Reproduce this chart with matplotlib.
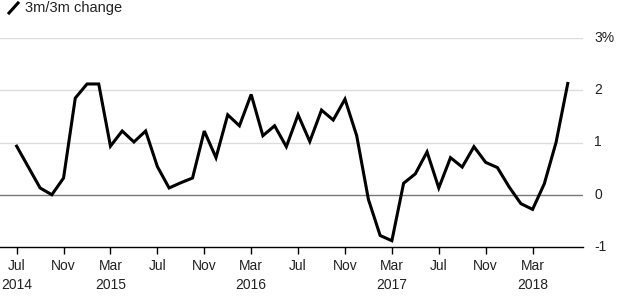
import numpy as np
import matplotlib.pyplot as plt
from matplotlib.lines import Line2D

plt.rcParams['font.family'] = ['Liberation Sans', 'DejaVu Sans']

# monthly values, Jul 2014 .. Jun 2018 (3m/3m % change)
months = ['Jul 2014', 'Aug', 'Sep', 'Oct', 'Nov', 'Dec',
          'Jan 2015', 'Feb', 'Mar', 'Apr', 'May', 'Jun', 'Jul', 'Aug', 'Sep', 'Oct', 'Nov', 'Dec',
          'Jan 2016', 'Feb', 'Mar', 'Apr', 'May', 'Jun', 'Jul', 'Aug', 'Sep', 'Oct', 'Nov', 'Dec',
          'Jan 2017', 'Feb', 'Mar', 'Apr', 'May', 'Jun', 'Jul', 'Aug', 'Sep', 'Oct', 'Nov', 'Dec',
          'Jan 2018', 'Feb', 'Mar', 'Apr', 'May', 'Jun']
change = [0.93, 0.53, 0.13, 0.0, 0.32, 1.85,
          2.12, 2.12, 0.93, 1.22, 1.01, 1.22, 0.54, 0.13, 0.23, 0.32, 1.22, 0.71,
          1.53, 1.32, 1.92, 1.13, 1.32, 0.92, 1.53, 1.02, 1.62, 1.43, 1.83, 1.13,
          -0.09, -0.78, -0.88, 0.22, 0.40, 0.82, 0.13, 0.71, 0.53, 0.92, 0.62, 0.52,
          0.15, -0.17, -0.28, 0.21, 1.00, 2.13]

tick_pos = [0, 4, 8, 12, 16, 20, 24, 28, 32, 36, 40, 44]
tick_labels = ['Jul\n2014', 'Nov', 'Mar\n2015', 'Jul', 'Nov', 'Mar\n2016', 'Jul', 'Nov',
               'Mar\n2017', 'Jul', 'Nov', 'Mar\n2018']
y_ticks = [-1, 0, 1, 2, 3]
y_labels = ['-1', '0', '1', '2', '3%']

W, H = 620, 304
fig = plt.figure(figsize=(W / 100, H / 100), dpi=100)
ax = fig.add_axes([0, 57 / H, 583 / W, 209 / H])

x = np.arange(len(change))
ax.plot(x, change, color='black', lw=2.2, solid_joinstyle='miter', zorder=3)

ax.set_xlim(-1.42, 48.3)
ax.set_ylim(-1, 3)

for y in [1, 2, 3]:
    ax.axhline(y, color='#dcdcdc', lw=1, zorder=1)
ax.axhline(0, color='#777777', lw=1, zorder=2)

for s in ['top', 'left', 'right']:
    ax.spines[s].set_visible(False)
ax.spines['bottom'].set_color('black')
ax.spines['bottom'].set_linewidth(1)

ax.set_xticks(tick_pos)
ax.set_xticklabels(tick_labels, fontsize=10, color='#222222', linespacing=1.45)
ax.tick_params(axis='x', length=5, width=1, color='black', pad=4)

ax.yaxis.tick_right()
ax.set_yticks(y_ticks)
ax.set_yticklabels(y_labels, fontsize=10, color='#222222')
ax.tick_params(axis='y', length=0, pad=8)
for lab in ax.get_yticklabels():
    lab.set_verticalalignment('center')

# legend at top left
fig.add_artist(Line2D([9 / W, 18 / W], [1 - 13 / H, 1 - 3 / H], color='black', lw=2.2,
                      transform=fig.transFigure))
fig.text(25 / W, 1 - 8 / H, '3m/3m change', fontsize=10.5, color='#222222',
         va='center', ha='left')

fig.savefig('out.png', dpi=100)
